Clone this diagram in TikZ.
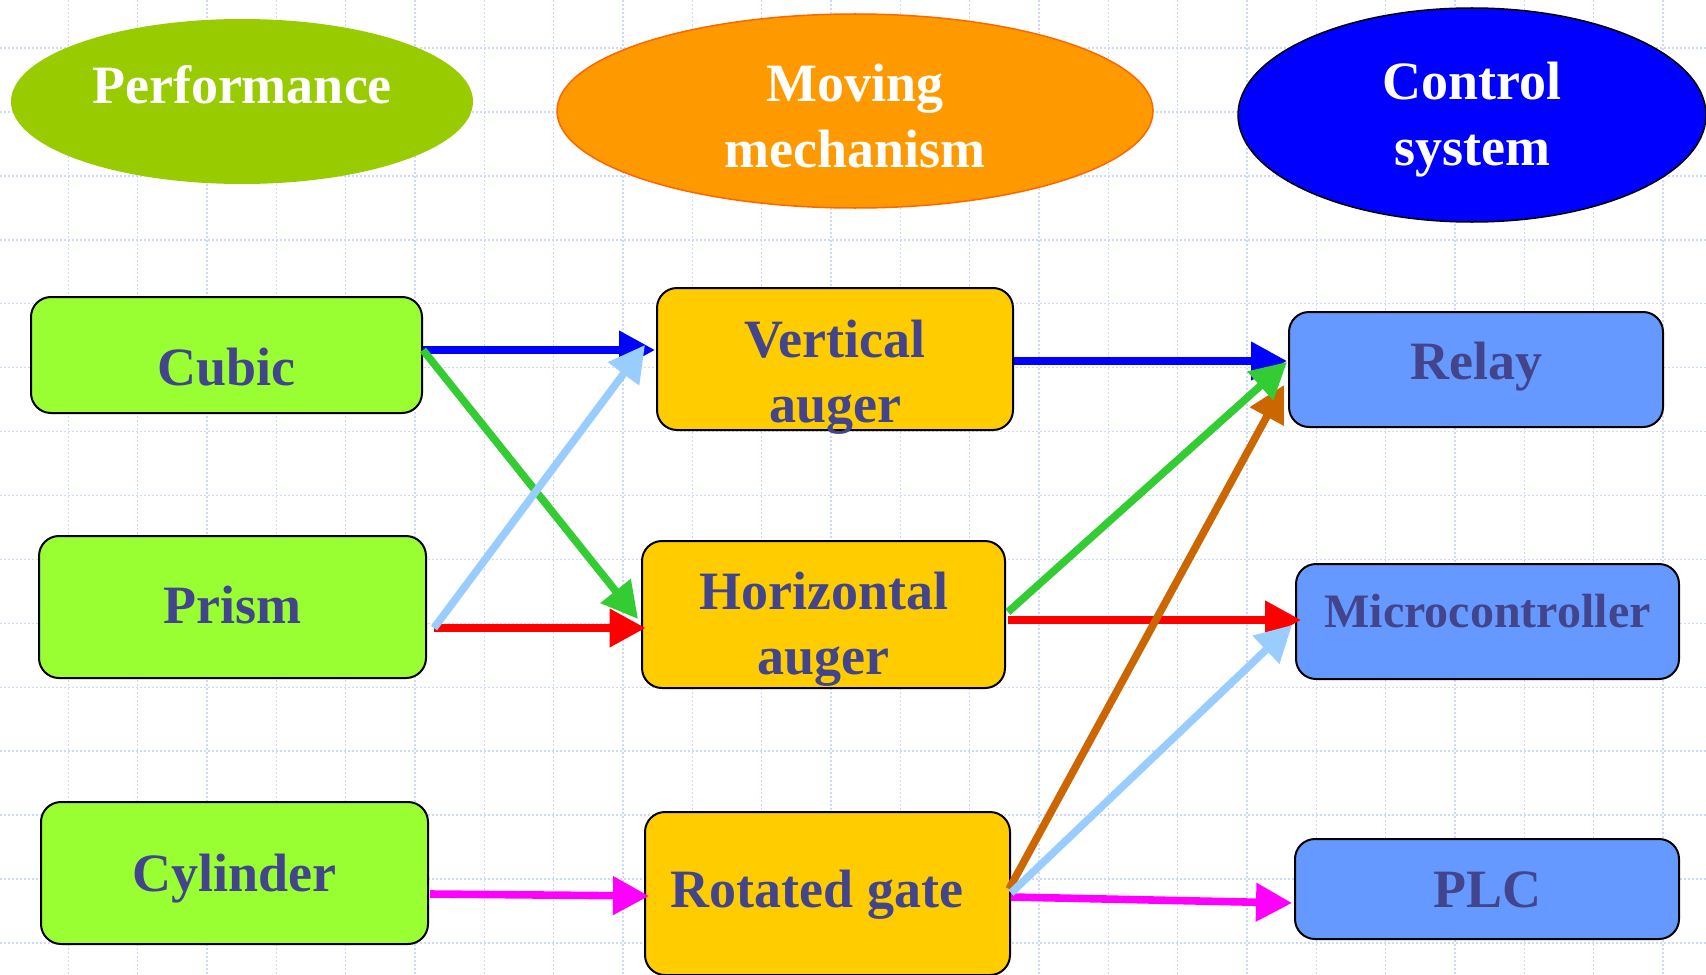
\documentclass[tikz,border=0pt]{standalone}
\usepackage{fontspec}
\setmainfont{Liberation Serif}
\usetikzlibrary{arrows.meta,shapes.geometric,calc}
\definecolor{gridc}{RGB}{204,217,252}
\definecolor{perfgreen}{RGB}{153,204,0}
\definecolor{moveorange}{RGB}{255,153,0}
\definecolor{moveedge}{RGB}{255,102,0}
\definecolor{boxgreen}{RGB}{153,255,51}
\definecolor{boxgold}{RGB}{255,204,0}
\definecolor{boxblue}{RGB}{102,153,255}
\definecolor{labelblue}{RGB}{66,68,140}
\definecolor{arrblue}{RGB}{0,0,255}
\definecolor{arrred}{RGB}{255,0,0}
\definecolor{arrmagenta}{RGB}{255,0,255}
\definecolor{arrgreen}{RGB}{51,204,51}
\definecolor{arrsky}{RGB}{153,204,255}
\definecolor{arrbrown}{RGB}{204,102,0}
\begin{document}
\begin{tikzpicture}[x=0.5pt,y=-0.5pt,
  gridline/.style={draw=gridc, line width=0.75pt, dash pattern=on 1pt off 1pt},
  cell/.style={draw=black, line width=1pt, rounded corners=10pt, inner sep=0pt},
  greencell/.style={cell, fill=boxgreen},
  goldcell/.style={cell, fill=boxgold},
  bluecell/.style={cell, fill=boxblue},
  head/.style={ellipse, inner sep=0pt},
  lbl/.style={anchor=base, text=labelblue, align=center,
    font=\fontsize{27pt}{32.5pt}\selectfont\bfseries},
  hlbl/.style={lbl, text=white},
  link/.style={line width=3.8pt, -{Triangle[length=18pt,width=18.5pt]}},
]
\useasboundingbox (0,0) rectangle (1706,974);
\clip (0,0) rectangle (1706,974);
\fill[white] (0,0) rectangle (1706,974);

% dotted background grid
\foreach \i in {0,...,23} \draw[gridline] ({68.3+69.33*\i},0) -- ++(0,974);
\foreach \j in {0,...,14} \draw[gridline] (0,{48+63.93*\j}) -- ++(1706,0);

% column headings (two-line labels are placed by the baseline of their last line)
\node[head, fill=perfgreen, minimum width=231pt, minimum height=82.5pt] (perf) at (242,101.5) {};
\node[head, fill=moveorange, draw=moveedge, line width=0.75pt, minimum width=298pt, minimum height=97pt] (move) at (855,111) {};
\node[head, fill=blue, draw=black, line width=0.75pt, minimum width=234pt, minimum height=107pt] (ctrl) at (1472,115) {};
\node[hlbl] at (242,104) {Performance};
\node[hlbl] at (855,167) {Moving\\mechanism};
\node[hlbl] at (1472,165) {Control\\system};

% performance column
\node[greencell, minimum width=195.5pt, minimum height=58pt] (cubic) at (226.5,355) {};
\node[greencell, minimum width=193.5pt, minimum height=71pt] (prism) at (232.5,607) {};
\node[greencell, minimum width=193.5pt, minimum height=71pt] (cyl) at (234.5,873) {};
\node[lbl] at (226.5,385) {Cubic};
\node[lbl] at (232.5,623) {Prism};
\node[lbl] at (234.5,891) {Cylinder};

% moving mechanism column
\node[goldcell, minimum width=178pt, minimum height=71pt] (vauger) at (835,359) {};
\node[goldcell, minimum width=181.5pt, minimum height=73.5pt] (hauger) at (823.5,614.5) {};
\node[goldcell, minimum width=182.5pt, minimum height=81.5pt] (rgate) at (827.5,893.5) {};
\node[lbl] at (835,422) {Vertical\\auger};
\node[lbl] at (823.5,674) {Horizontal\\auger};
\node[lbl] at (817,907) {Rotated gate};

% control system column
\node[bluecell, minimum width=187pt, minimum height=57.5pt] (relay) at (1476,369.5) {};
\node[bluecell, minimum width=191.5pt, minimum height=57.5pt] (micro) at (1487.5,621.5) {};
\node[bluecell, minimum width=192pt, minimum height=50pt] (plc) at (1487,889) {};
\node[lbl] at (1476,379) {Relay};
\node[lbl, font=\fontsize{24pt}{28pt}\selectfont\bfseries] at (1487.5,627) {Microcontroller};
\node[lbl] at (1487,907) {PLC};

% links: performance -> moving mechanism
\draw[link, arrblue] ($(cubic.east)+(0,-5)$) -- ($(vauger.west)+(-1,-9)$);
\draw[link, arrred] ($(prism.east)+(7,21)$) -- ($(hauger.west)+(4.5,13.5)$);
\draw[link, arrmagenta] ($(cyl.east)+(1,21)$) -- ($(rgate.west)+(5,2.5)$);
\draw[link, arrgreen] ($(cubic.east)+(0,-5)$) -- ($(hauger.west)+(-3,4.5)$);
\draw[link, arrsky] ($(prism.east)+(7,21)$) -- ($(vauger.west)+(-11,-14)$);

% links: moving mechanism -> control system
\draw[link, arrblue] ($(vauger.east)+(0,2)$) -- ($(relay.west)+(-1,-8.5)$);
\draw[link, arrred] ($(hauger.east)+(2,5.5)$) -- ($(micro.west)+(6,-1.5)$);
\draw[link, arrmagenta] ($(rgate.east)+(0,3.5)$) -- ($(plc.west)+(-2,14)$);
\draw[link, arrbrown] ($(rgate.east)+(-2,-4.5)$) -- ($(relay.west)+(-4,15.5)$);
\draw[link, arrgreen] ($(hauger.east)+(2,-2.5)$) -- ($(relay.west)+(-1,-7.5)$);
\draw[link, arrsky] ($(rgate.east)+(0,-0.5)$) -- ($(micro.west)+(-3,3.5)$);
\end{tikzpicture}
\end{document}
